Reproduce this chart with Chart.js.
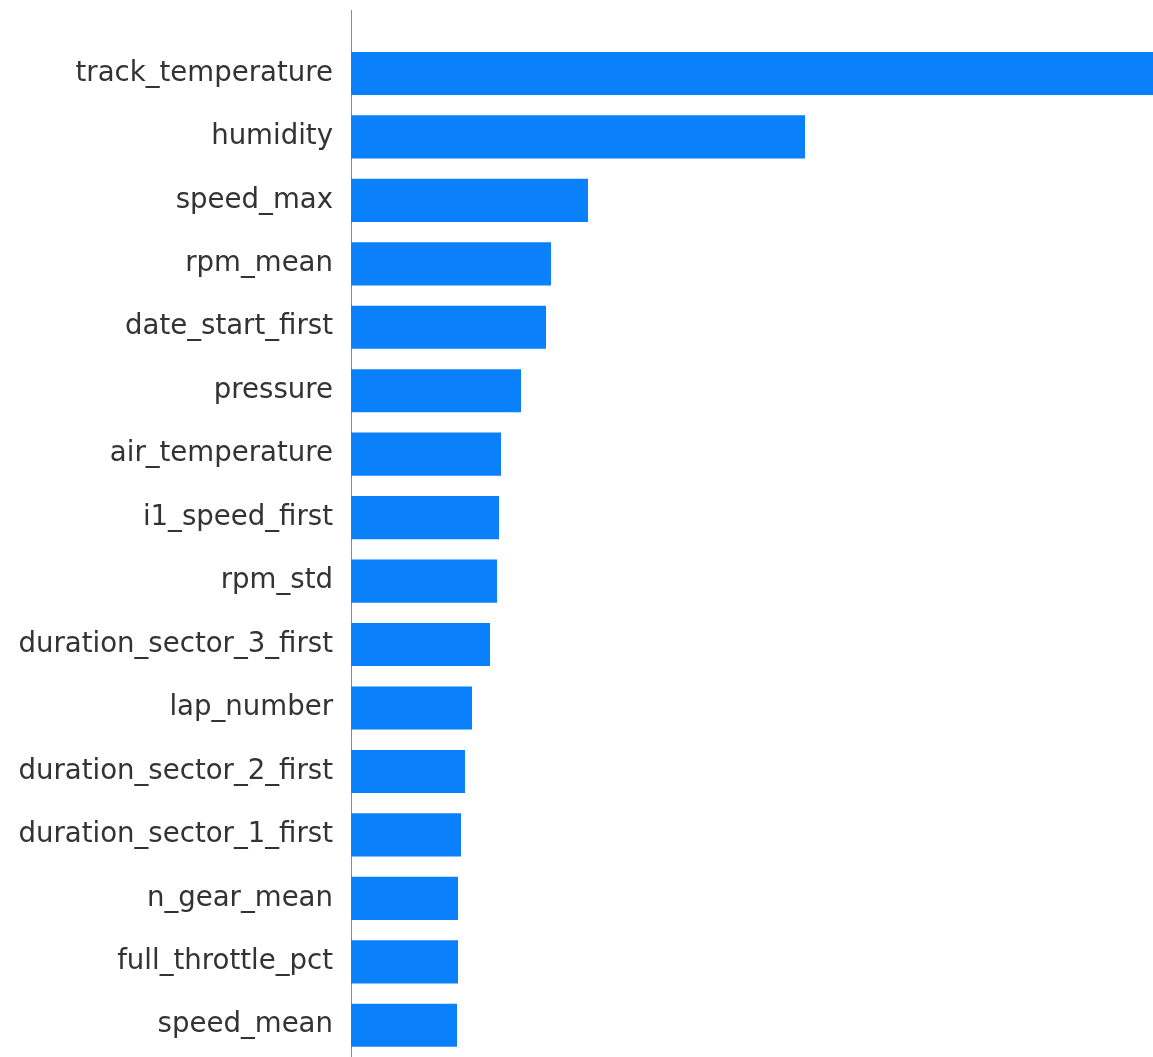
<!DOCTYPE html>
<html>
<head>
<meta charset="utf-8">
<script src="https://cdn.jsdelivr.net/npm/chart.js@4"></script>
<style>
  html, body { margin: 0; padding: 0; background: #fff; overflow: hidden; }
  canvas { display: block; }
</style>
</head>
<body>
<canvas id="importance" width="1153" height="1057"></canvas>
<script>
// Feature importance (mean |SHAP|), sorted high to low
const features = [
    'track_temperature', 'humidity', 'speed_max', 'rpm_mean', 'date_start_first',
    'pressure', 'air_temperature', 'i1_speed_first', 'rpm_std', 'duration_sector_3_first',
    'lap_number', 'duration_sector_2_first', 'duration_sector_1_first', 'n_gear_mean',
    'full_throttle_pct', 'speed_mean'
];
const importance = [
    0.920, 0.454, 0.237, 0.200, 0.195,
    0.170, 0.150, 0.148, 0.146, 0.139,
    0.121, 0.114, 0.110, 0.107,
    0.107, 0.106
];

const ctx = document.getElementById('importance').getContext('2d');
new Chart(ctx, {
    type: 'bar',
    data: {
        datasets: [{
            data: importance.map((v, i) => ({ x: v, y: i })),
            backgroundColor: '#0a80fb',
            borderWidth: 0,
            barPercentage: 0.85,
            categoryPercentage: 0.8
        }]
    },
    options: {
        indexAxis: 'y',
        responsive: false,
        animation: false,
        layout: { padding: { top: 10, right: 0, bottom: 0, left: 0 } },
        plugins: { legend: { display: false }, tooltip: { enabled: false } },
        scales: {
            x: {
                type: 'linear',
                min: 0,
                max: 0.802,
                display: false
            },
            y: {
                type: 'linear',
                reverse: true,
                offset: false,
                min: -1,
                max: 15.5,
                // one tick per feature row
                afterBuildTicks: (scale) => {
                    scale.ticks = features.map((_, i) => ({ value: i }));
                },
                afterFit: (scale) => {
                    scale.width = 351;
                    scale.paddingTop = 0;
                    scale.paddingBottom = 0;
                },
                grid: { display: false, drawTicks: false },
                border: { display: true, color: '#8a8a8a', width: 1 },
                ticks: {
                    autoSkip: false,
                    padding: 18,
                    color: '#333333',
                    font: { family: 'DejaVu Sans', size: 27.6 },
                    callback: (value) => features[value] ?? ''
                }
            }
        }
    }
});
</script>
</body>
</html>
